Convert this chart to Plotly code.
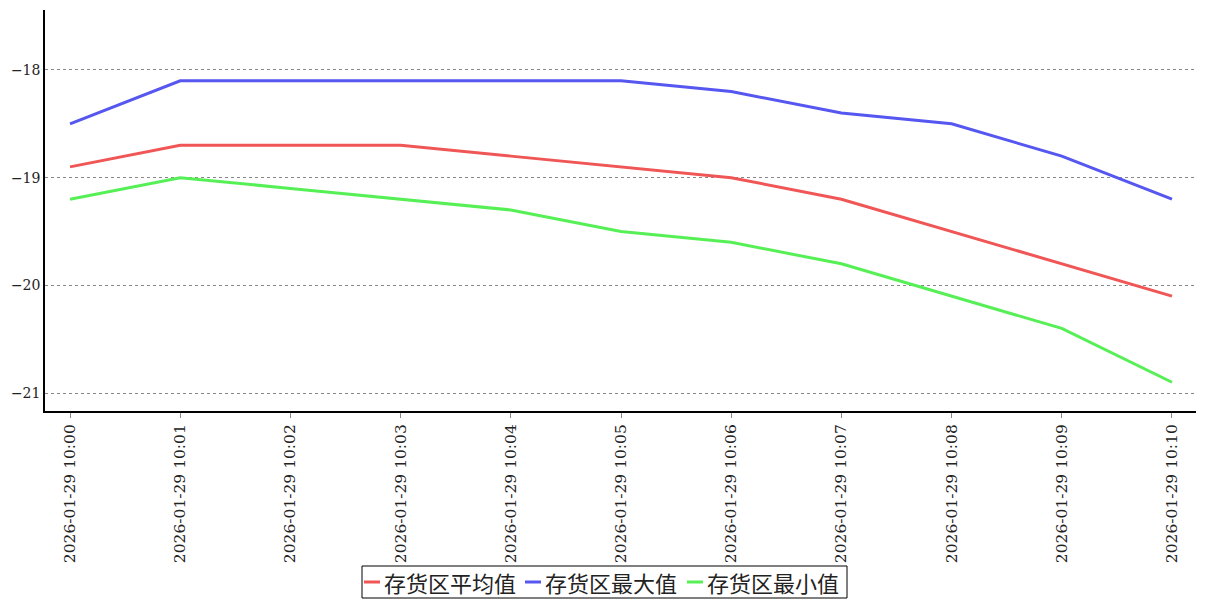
import plotly.graph_objects as go

times = ["2026-01-29 10:00", "2026-01-29 10:01", "2026-01-29 10:02", "2026-01-29 10:03",
         "2026-01-29 10:04", "2026-01-29 10:05", "2026-01-29 10:06", "2026-01-29 10:07",
         "2026-01-29 10:08", "2026-01-29 10:09", "2026-01-29 10:10"]
avg_vals = [-18.9, -18.7, -18.7, -18.7, -18.8, -18.9, -19.0, -19.2, -19.5, -19.8, -20.1]
max_vals = [-18.5, -18.1, -18.1, -18.1, -18.1, -18.1, -18.2, -18.4, -18.5, -18.8, -19.2]
min_vals = [-19.2, -19.0, -19.1, -19.2, -19.3, -19.5, -19.6, -19.8, -20.1, -20.4, -20.9]
names = ["存货区平均值", "存货区最大值", "存货区最小值"]
colors = ["#f05656", "#5656f0", "#56f056"]

W, H = 1207, 600
L, R, T, B = 45, 11, 10, 189
PW, PH = W - L - R, H - T - B


def px(x):
    return (x - L) / PW


def py(y):
    return (H - B - y) / PH


fig = go.Figure()
for name, vals, c in zip(names, [avg_vals, max_vals, min_vals], colors):
    fig.add_trace(go.Scatter(x=times, y=vals, mode="lines", name=name,
                             line=dict(color=c, width=3), showlegend=False))

# manual legend (box, swatches, labels)
fig.add_shape(type="rect", xref="paper", yref="paper",
              x0=px(362), x1=px(847), y0=py(598), y1=py(566),
              line=dict(color="#000", width=1), fillcolor="white")
starts = [362, 523, 685]
for s, name, c in zip(starts, names, colors):
    fig.add_shape(type="line", xref="paper", yref="paper",
                  x0=px(s + 2), x1=px(s + 18), y0=py(582), y1=py(582),
                  line=dict(color=c, width=3))
    fig.add_annotation(xref="paper", yref="paper", x=px(s + 20), y=py(582),
                       xanchor="left", yanchor="middle", text=name, showarrow=False,
                       font=dict(size=22, family="Noto Sans CJK SC", color="#222"))

serif = "DejaVu Serif, Liberation Serif, Noto Sans CJK SC"
fig.update_layout(
    width=W, height=H,
    margin=dict(l=L, r=R, t=T, b=B),
    plot_bgcolor="white", paper_bgcolor="white",
    font=dict(family=serif, color="#222", size=14),
    showlegend=False,
    xaxis=dict(type="category", range=[-0.227, 10.218], tickangle=-90, automargin=False,
               showline=True, linecolor="#000", linewidth=2, showgrid=False,
               ticks="outside", ticklen=5, tickcolor="#888",
               tickfont=dict(size=15.5, family=serif)),
    yaxis=dict(range=[-21.167, -17.443], dtick=1, tick0=-21, automargin=False,
               showline=True, linecolor="#000", linewidth=1.5,
               showgrid=True, gridcolor="#888", griddash="dot", gridwidth=1,
               zeroline=False, ticks="", tickfont=dict(size=14, family=serif)),
)
fig.write_html("out.html", config={"displayModeBar": False},
               post_script="document.body.style.margin='0';document.body.style.overflow='hidden';")
